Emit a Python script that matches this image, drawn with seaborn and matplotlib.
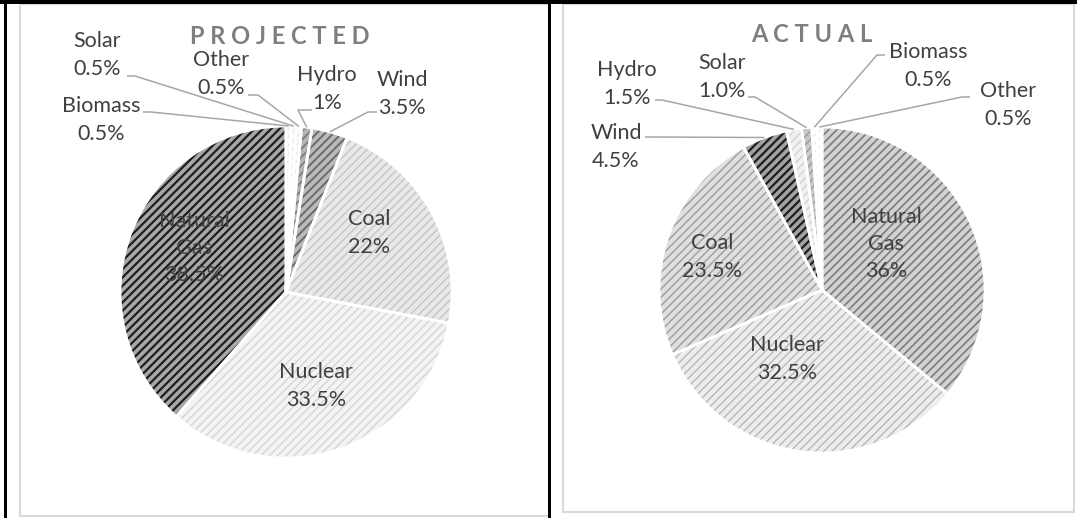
import numpy as np
import matplotlib
matplotlib.use("Agg")
import matplotlib.pyplot as plt
from matplotlib.patches import Rectangle
import seaborn as sns

W, H = 1079, 518

# --- data -------------------------------------------------------------
projected_sources = ["Biomass", "Solar", "Other", "Hydro", "Wind", "Coal", "Nuclear", "Natural Gas"]
projected_share = [0.5, 0.5, 0.5, 1.0, 3.5, 22.0, 33.5, 38.5]
projected_text = ["0.5%", "0.5%", "0.5%", "1%", "3.5%", "22%", "33.5%", "38.5%"]

actual_sources = ["Natural Gas", "Nuclear", "Coal", "Wind", "Hydro", "Solar", "Biomass", "Other"]
actual_share = [36.0, 32.5, 23.5, 4.5, 1.5, 1.0, 0.5, 0.5]
actual_text = ["36%", "32.5%", "23.5%", "4.5%", "1.5%", "1.0%", "0.5%", "0.5%"]

# --- styles: face colour, hatch colour, hatch width ---------------------
projected_style = {
    "Biomass": ("#f8f8f8", "#dedede", 0.8),
    "Solar": ("#f8f8f8", "#dedede", 0.8),
    "Other": ("#f8f8f8", "#dedede", 0.8),
    "Hydro": ("#b4b4b4", "#7a7a7a", 1.2),
    "Wind": ("#bababa", "#6a6a6a", 1.4),
    "Coal": ("#e8e8e8", "#c4c4c4", 1.0),
    "Nuclear": ("#f3f3f3", "#d4d4d4", 1.0),
    "Natural Gas": ("#a8a8a8", "#1e1e1e", 1.6),
}
actual_style = {
    "Natural Gas": ("#d2d2d2", "#7c7c7c", 1.2),
    "Nuclear": ("#ededed", "#b8b8b8", 1.0),
    "Coal": ("#e0e0e0", "#a2a2a2", 1.1),
    "Wind": ("#a2a2a2", "#1e1e1e", 1.6),
    "Hydro": ("#f0f0f0", "#d0d0d0", 0.9),
    "Solar": ("#c8c8c8", "#9a9a9a", 1.0),
    "Biomass": ("#ffffff", "#e2e2e2", 0.8),
    "Other": ("#ffffff", "#e2e2e2", 0.8),
}

# label block centre (image px) and leader start points (image px)
projected_layout = {
    "Solar": (97, 55, [(127, 76), (135, 76)]),
    "Biomass": (101, 120, [(143, 112), (151, 112)]),
    "Other": (221, 74, [(248, 95), (258, 95)]),
    "Hydro": (327, 89, [(312, 110), (298, 110)]),
    "Wind": (402, 94, [(377, 112), (368, 112)]),
    "Coal": (369, 233, None),
    "Nuclear": (316, 386, None),
    "Natural Gas": (194, 248, None),
}
actual_layout = {
    "Biomass": (928, 66, [(885, 55), (877, 55)]),
    "Other": (1008, 105, [(970, 97), (962, 97)]),
    "Solar": (722, 77, [(748, 97), (755, 97)]),
    "Hydro": (627, 84, [(655, 100), (662, 100)]),
    "Wind": (616, 147, [(645, 137), (653, 137)]),
    "Natural Gas": (886, 244, None),
    "Coal": (712, 257, None),
    "Nuclear": (787, 359, None),
}

sns.set_theme(style="white")
plt.rcParams["font.family"] = ["Lato", "DejaVu Sans"]
plt.rcParams["hatch.linewidth"] = 1.0

TEXT = "#404040"
LEADER = "#a6a6a6"


def img(x, y):
    return x, H - y


def draw_pie(ax, sources, shares, texts, style, center, radius, layout):
    cx, cy = img(*center)
    faces = [style[s][0] for s in sources]
    wedges, _ = ax.pie(shares, colors=faces, startangle=90, counterclock=False,
                       center=(cx, cy), radius=radius,
                       wedgeprops=dict(linewidth=0))
    for w, s in zip(wedges, sources):
        face, hcol, hlw = style[s]
        w.set_edgecolor(hcol)
        w.set_hatch("////")
        if hasattr(w, "set_hatch_linewidth"):
            w.set_hatch_linewidth(hlw)
    # white separators between slices
    ax.pie(shares, startangle=90, counterclock=False, center=(cx, cy),
           radius=radius, wedgeprops=dict(fill=False, edgecolor="white", linewidth=2))

    for w, s, t in zip(wedges, sources, texts):
        x, y, leader = layout[s]
        label = s.replace(" ", "\n") + "\n" + t
        ax.text(*img(x, y), label, ha="center", va="center", fontsize=15.5,
                color=TEXT, linespacing=1.45, zorder=5)
        if leader:
            mid = np.deg2rad((w.theta1 + w.theta2) / 2)
            rim = (cx + radius * np.cos(mid), cy + radius * np.sin(mid))
            pts = [img(px, py) for px, py in leader] + [rim]
            ax.plot([p[0] for p in pts], [p[1] for p in pts], color=LEADER,
                    lw=1.1, zorder=4, solid_capstyle="butt")


fig = plt.figure(figsize=(W / 100, H / 100), dpi=100)
ax = fig.add_axes([0, 0, 1, 1])

draw_pie(ax, projected_sources, projected_share, projected_text, projected_style,
         (286, 292), 166, projected_layout)
draw_pie(ax, actual_sources, actual_share, actual_text, actual_style,
         (822, 290), 163, actual_layout)

ax.text(*img(280, 37), "P R O J E C T E D", ha="center", va="center",
        fontsize=17, fontweight="bold", color="#7f7f7f")
ax.text(*img(812, 34), "A C T U A L", ha="center", va="center",
        fontsize=17, fontweight="bold", color="#7f7f7f")

# frame: chart boxes and table rules
ax.add_patch(Rectangle(img(20, 516), 529, 512, fill=False, edgecolor="#d9d9d9", lw=1.5))
ax.add_patch(Rectangle(img(563, 512), 511, 508, fill=False, edgecolor="#d9d9d9", lw=1.5))
ax.add_patch(Rectangle(img(0, 4), 1077, 4, color="black", lw=0))
ax.add_patch(Rectangle(img(4, 518), 3, 518, color="black", lw=0))
ax.add_patch(Rectangle(img(548, 518), 2.5, 518, color="black", lw=0))

ax.set_xlim(0, W)
ax.set_ylim(0, H)
ax.set_aspect("auto")
ax.axis("off")

fig.savefig("out.png", dpi=100)
